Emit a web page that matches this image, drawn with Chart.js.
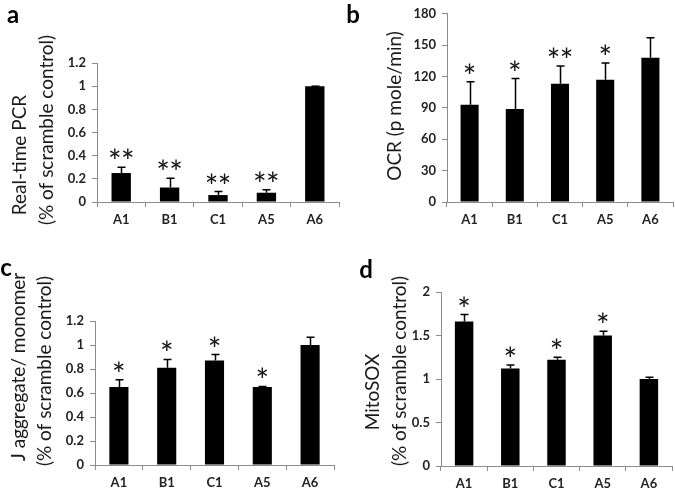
<!DOCTYPE html>
<html>
<head>
<meta charset="utf-8">
<script src="https://cdn.jsdelivr.net/npm/chart.js@4.4.0/dist/chart.umd.min.js"></script>
<style>
  body { margin: 0; background: #fff; }
  #wrap { position: relative; width: 675px; height: 492px; overflow: hidden; }
  canvas { position: absolute; }
</style>
</head>
<body>
<div id="wrap">
  <canvas id="chartA" style="left:0;top:0" width="340" height="240"></canvas>
  <canvas id="chartB" style="left:340px;top:0" width="335" height="240"></canvas>
  <canvas id="chartC" style="left:0;top:240px" width="340" height="252"></canvas>
  <canvas id="chartD" style="left:340px;top:240px" width="335" height="252"></canvas>
</div>
<script>
const categories = ["A1", "B1", "C1", "A5", "A6"];

// a: real-time PCR
const pcrMean = [0.25, 0.125, 0.06, 0.08, 1.0];
const pcrErr = [0.30, 0.205, 0.09, 0.105, 1.0];
const pcrStars = ["**", "**", "**", "**", ""];

// b: OCR
const ocrMean = [93, 89, 113, 117, 138];
const ocrErr = [115, 118, 130, 133, 157];
const ocrStars = ["*", "*", "**", "*", ""];

// c: J aggregate / monomer
const jaggMean = [0.65, 0.81, 0.87, 0.65, 1.0];
const jaggErr = [0.71, 0.88, 0.92, 0.655, 1.065];
const jaggStars = ["*", "*", "*", "*", ""];

// d: MitoSOX
const soxMean = [1.66, 1.12, 1.22, 1.50, 1.0];
const soxErr = [1.74, 1.16, 1.25, 1.55, 1.02];
const soxStars = ["*", "*", "*", "*", ""];

const FONT = "Lato, 'Open Sans', sans-serif";
const AXIS = "#8c8c8c";

// error bars (upper whisker only), stars, axis titles, panel letter
const extras = {
  id: "extras",
  afterDatasetsDraw(chart, args, opts) {
    const ctx = chart.ctx;
    const x = chart.scales.x, y = chart.scales.y;
    ctx.save();
    ctx.strokeStyle = "#000";
    ctx.lineWidth = 1.5;
    opts.err.forEach((v, i) => {
      const cx = Math.round(x.getPixelForValue(i)) + 0.5;
      const top = y.getPixelForValue(v);
      const bot = y.getPixelForValue(opts.mean[i]);
      ctx.beginPath();
      ctx.moveTo(cx, bot);
      ctx.lineTo(cx, top);
      ctx.moveTo(cx - 4, top);
      ctx.lineTo(cx + 4, top);
      ctx.stroke();
    });
    ctx.fillStyle = "#111";
    ctx.font = "32px " + FONT;
    ctx.textAlign = "center";
    ctx.textBaseline = "alphabetic";
    opts.stars.forEach((s, i) => {
      if (!s) return;
      const cx = x.getPixelForValue(i);
      const top = y.getPixelForValue(opts.err[i]);
      const n = s.length;
      for (let k = 0; k < n; k++) {
        ctx.fillText("*", cx + (k - (n - 1) / 2) * 13, top + 6);
      }
    });
    ctx.fillStyle = "#1a1a1a";
    ctx.font = "19px " + FONT;
    opts.titles.forEach(t => {
      ctx.save();
      ctx.translate(t.x, t.y);
      ctx.rotate(-Math.PI / 2);
      ctx.textBaseline = "middle";
      ctx.fillText(t.text, 0, 0);
      ctx.restore();
    });
    ctx.font = "bold 24px " + FONT;
    ctx.fillStyle = "#000";
    ctx.textAlign = "center";
    ctx.textBaseline = "middle";
    ctx.fillText(opts.letter[0], opts.letter[1], opts.letter[2]);
    ctx.restore();
  }
};

function makeChart(id, mean, err, stars, yMax, yStep, area, titles, letter) {
  new Chart(document.getElementById(id), {
    type: "bar",
    data: {
      labels: categories,
      datasets: [{
        data: mean,
        backgroundColor: "#000",
        borderWidth: 0,
        barPercentage: 0.4,
        categoryPercentage: 1
      }]
    },
    options: {
      responsive: false,
      animation: false,
      layout: { padding: { left: 0, top: area.top, right: area.right, bottom: 0 } },
      plugins: {
        legend: { display: false },
        tooltip: { enabled: false },
        extras: { mean: mean, err: err, stars: stars, titles: titles, letter: letter }
      },
      scales: {
        x: {
          afterFit(s) { s.height = area.xh; },
          grid: { drawOnChartArea: false, drawTicks: true, tickLength: 5, color: AXIS, offset: true },
          border: { color: AXIS, width: 1 },
          ticks: { color: "#222", padding: 5, font: { family: FONT, size: 13, weight: "bold" } }
        },
        y: {
          min: 0, max: yMax,
          afterFit(s) { s.width = area.left; },
          grid: { drawOnChartArea: false, drawTicks: true, tickLength: 5, color: AXIS },
          border: { color: AXIS, width: 1 },
          ticks: {
            stepSize: yStep, color: "#222", padding: 6,
            font: { family: FONT, size: 13, weight: "bold" },
            callback: v => String(Math.round(v * 10) / 10)
          }
        }
      }
    },
    plugins: [extras]
  });
}

makeChart("chartA", pcrMean, pcrErr, pcrStars, 1.2, 0.2,
  { left: 97, top: 63, right: 1, xh: 38 },
  [{ text: "Real-time PCR", x: 20, y: 155 }, { text: "(% of scramble control)", x: 47, y: 130 }],
  ["a", 13, 15]);

makeChart("chartB", ocrMean, ocrErr, ocrStars, 180, 30,
  { left: 107, top: 12, right: 2, xh: 38 },
  [{ text: "OCR (p mole/min)", x: 55, y: 106 }],
  ["b", 13, 15]);

makeChart("chartC", jaggMean, jaggErr, jaggStars, 1.2, 0.2,
  { left: 95, top: 81, right: 6, xh: 27 },
  [{ text: "J aggregate/ monomer", x: 19, y: 127 }, { text: "(% of scramble control)", x: 45, y: 131 }],
  ["c", 6, 28]);

makeChart("chartD", soxMean, soxErr, soxStars, 2, 0.5,
  { left: 101, top: 52, right: 3, xh: 26 },
  [{ text: "MitoSOX", x: 33, y: 152 }, { text: "(% of scramble control)", x: 60, y: 131 }],
  ["d", 26, 30]);
</script>
</body>
</html>
